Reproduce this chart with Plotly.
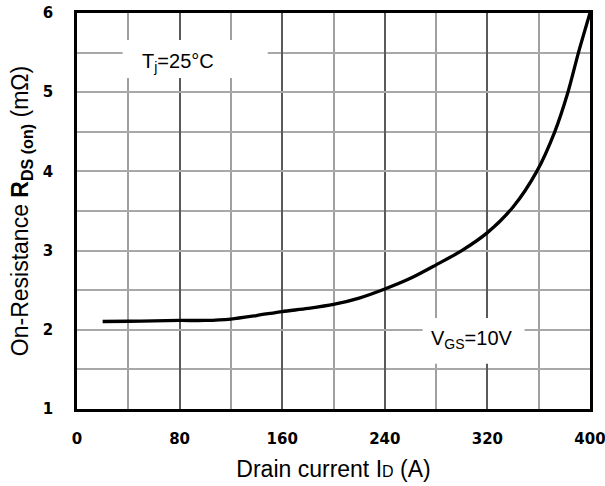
import plotly.graph_objects as go

# Drain current (A) and on-resistance (mOhm)
drain_current = [20, 40, 60, 80, 100, 120, 140, 160, 180, 200, 220, 240, 260, 280, 300, 320, 340, 358.5, 372.5, 382.8, 391, 400]
r_ds_on = [2.105, 2.108, 2.112, 2.118, 2.118, 2.136, 2.18, 2.23, 2.27, 2.32, 2.40, 2.515, 2.65, 2.82, 3.00, 3.227, 3.55, 4.00, 4.50, 5.00, 5.50, 6.0]

x_ticks = [0, 80, 160, 240, 320, 400]
y_ticks = [1, 2, 3, 4, 5, 6]

fig = go.Figure()
fig.add_trace(go.Scatter(x=drain_current, y=r_ds_on, mode="lines",
                         line=dict(color="black", width=3.3, shape="spline", smoothing=0.8),
                         showlegend=False, hoverinfo="skip"))

# white boxes behind the annotations (cover gridlines)
fig.add_shape(type="rect", x0=35.6, x1=148.7, y0=5.18, y1=5.66, fillcolor="white",
              line=dict(width=0), layer="between")
fig.add_shape(type="rect", x0=269.5, x1=349, y0=1.57, y1=2.15, fillcolor="white",
              line=dict(width=0), layer="between")

fig.add_annotation(x=78.5, y=5.37, text="T<sub>j</sub>=25°C", showarrow=False,
                   font=dict(family="Liberation Sans, Arial", size=20, color="black"))
fig.add_annotation(x=308, y=1.875, text="V<sub>GS</sub>=10V", showarrow=False,
                   font=dict(family="Liberation Sans, Arial", size=20, color="black"))

fig.update_xaxes(range=[0, 400], tickvals=x_ticks, ticktext=["<b>%d</b>" % v for v in x_ticks],
                 showgrid=True, gridcolor="#5a5a5a", gridwidth=1.5,
                 minor=dict(dtick=40, tick0=0, showgrid=True, gridcolor="#a0a0a0", gridwidth=1.5),
                 showline=True, linecolor="black", linewidth=2.5, mirror=True,
                 ticks="", ticklabelstandoff=14, zeroline=False, automargin=False,
                 ticklabeloverflow="allow",
                 tickfont=dict(family="DejaVu Sans", size=15, color="black"),
                 title=dict(text="Drain current I<span style='font-size:16px'>D</span> (A)",
                            font=dict(family="Liberation Sans, Arial", size=23, color="black"),
                            standoff=15))
fig.update_yaxes(range=[1, 6], tickvals=y_ticks, ticktext=["<b>%d</b>" % v for v in y_ticks],
                 showgrid=True, gridcolor="#a8a8a8", gridwidth=1.5,
                 minor=dict(dtick=0.5, tick0=1, showgrid=True, gridcolor="#a8a8a8", gridwidth=1.5),
                 showline=True, linecolor="black", linewidth=2.5, mirror=True,
                 ticks="", ticklabelstandoff=18, zeroline=False, automargin=False,
                 ticklabeloverflow="allow",
                 tickfont=dict(family="DejaVu Sans", size=15, color="black"),
                 title=dict(text="On-Resistance <b>R<sub>DS (on)</sub></b> (mΩ)",
                            font=dict(family="Liberation Sans, Arial", size=23, color="black"),
                            standoff=8))

fig.update_layout(width=605, height=486, plot_bgcolor="white", paper_bgcolor="white",
                  margin=dict(l=77, r=15, t=13, b=77))

fig.write_html("out.html", config={"displayModeBar": False},
               post_script="document.body.style.margin='0';document.body.style.overflow='hidden';")
